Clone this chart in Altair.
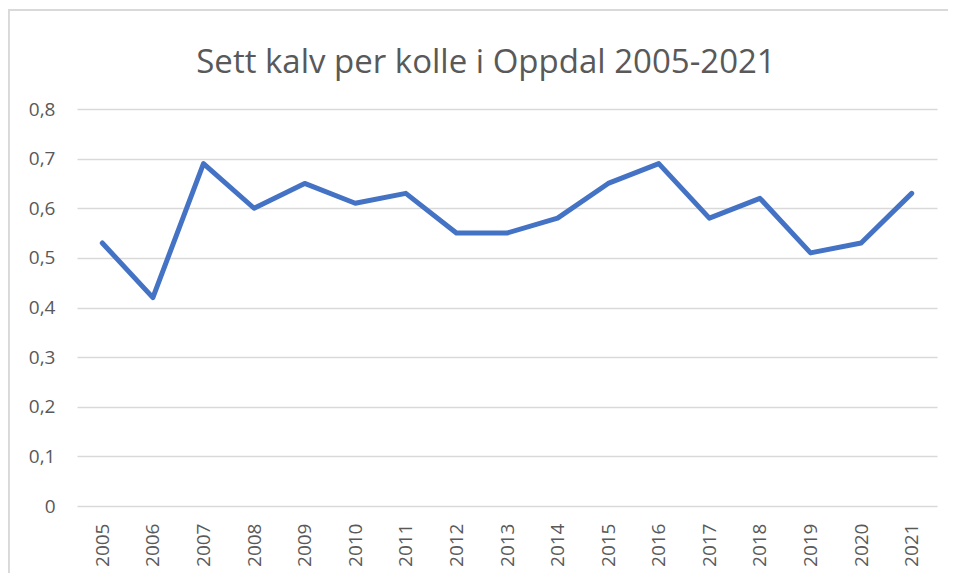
import altair as alt
import pandas as pd

years = [str(y) for y in range(2005, 2022)]
values = [0.53, 0.42, 0.69, 0.60, 0.65, 0.61, 0.63, 0.55, 0.55, 0.58,
          0.65, 0.69, 0.58, 0.62, 0.51, 0.53, 0.63]
y_ticks = [0, 0.1, 0.2, 0.3, 0.4, 0.5, 0.6, 0.7, 0.8]
title_text = "Sett kalv per kolle i Oppdal 2005-2021"

df = pd.DataFrame({"year": years, "value": values})

FONT = "Open Sans"
TXT = "#595959"

line = alt.Chart(df).mark_line(
    color="#4472C4", strokeWidth=5, strokeCap="round", strokeJoin="round"
).encode(
    x=alt.X("year:O", sort=years, title=None,
            axis=alt.Axis(labelAngle=-90, labelAlign="right", labelBaseline="middle",
                          labelPadding=17, ticks=False, domain=False,
                          labelFont=FONT, labelFontSize=19, labelColor=TXT,
                          grid=False)),
    y=alt.Y("value:Q", title=None,
            scale=alt.Scale(domain=[0, 0.8], nice=False, zero=True),
            axis=alt.Axis(values=y_ticks, ticks=False, domain=False,
                          labelPadding=22, labelFont=FONT, labelFontSize=19,
                          labelColor=TXT, gridColor="#D9D9D9", gridWidth=1.3,
                          labelExpr="replace(format(datum.value, '.1~f'), '.', ',')")),
)

frame = alt.Chart(df).mark_rule(color="#D9D9D9", strokeWidth=1.5).encode(
    x=alt.value(-69), x2=alt.value(900), y=alt.value(-99)
)
frame2 = alt.Chart(df).mark_rule(color="#D9D9D9", strokeWidth=1.5).encode(
    x=alt.value(-68.5), y=alt.value(-99), y2=alt.value(480)
)

chart = alt.layer(frame, frame2, line).properties(
    width=860, height=397,
    title=alt.TitleParams(title_text, font=FONT, fontSize=33, fontWeight="normal",
                          color=TXT, anchor="middle", dx=-21, offset=-71),
    autosize=alt.AutoSizeParams(type="none"),
    padding={"left": 69, "top": 101, "right": 11, "bottom": 67},
).configure(background="white").configure_view(stroke=None)

chart.save("out.html", embed_options={"renderer": "svg", "actions": False})
